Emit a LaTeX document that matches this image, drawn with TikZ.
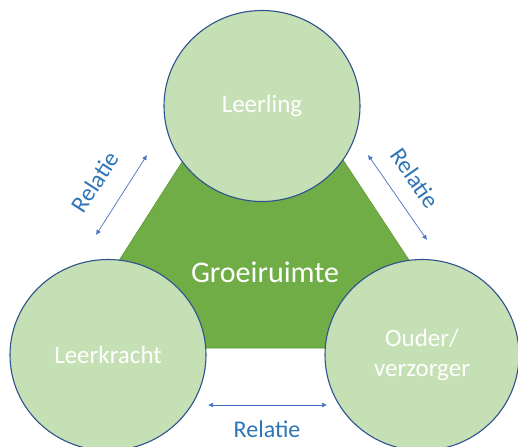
\documentclass[tikz,border=0pt]{standalone}
\usepackage{fontspec}
\setmainfont{Carlito}
\usepackage{tikz}
\usetikzlibrary{arrows.meta, shapes.geometric, positioning}
\definecolor{CircFill}{HTML}{C5E0B4}
\definecolor{CircLine}{HTML}{2F528F}
\definecolor{GrowFill}{HTML}{70AD47}
\definecolor{GrowLine}{HTML}{5E9A3A}
\definecolor{RelBlue}{HTML}{2E75B6}
\definecolor{ArrBlue}{HTML}{4472C4}

\begin{document}
\begin{tikzpicture}[x=1pt, y=-1pt,
	pers/.style={ellipse, draw=CircLine, line width=1.1pt, fill=CircFill, text=white, align=center,
		minimum width=196pt, minimum height=191pt, inner sep=0pt, font=\fontsize{25}{30}\selectfont},
	rel/.style={{Latex[length=5pt,width=5pt]}-{Latex[length=5pt,width=5pt]}, draw=ArrBlue, line width=0.7pt},
	rellbl/.style={text=RelBlue, inner sep=0pt, font=\fontsize{24}{28}\selectfont}]
	\useasboundingbox (0,0) rectangle (518,446);
	% growth area behind the circles
	\coordinate (top) at (262,37);
	\coordinate (bl) at (63,348);
	\coordinate (br) at (467,348);
	\fill[GrowFill, draw=GrowLine, line width=0.6pt] (top) -- (bl) -- (br) -- cycle;
	\node[pers] (ll) at (262,106) {Leerling};
	\node[pers] (lk) at (108,355) {Leerkracht};
	\node[pers, minimum width=194pt] (ov) at (422,355) {Ouder/\\verzorger};
	\node[text=white, inner sep=0pt, font=\fontsize{30}{36}\selectfont] (groei) at (265,272) {Groeiruimte};
	% relations
	\coordinate (la) at (96,235);
	\coordinate (lb) at (147,155);
	\coordinate (ra) at (368,155);
	\coordinate (rb) at (427,240);
	\coordinate (ba) at (208,405);
	\coordinate (bb) at (327,405);
	\draw[rel] (la) -- (lb);
	\draw[rel] (ra) -- (rb);
	\draw[rel] (ba) -- (bb);
	\node[rellbl, rotate=57] (rl) at (95,182) {Relatie};
	\node[rellbl, rotate=-55] (rr) at (415,178) {Relatie};
	\node[rellbl] (rbt) at (267,429) {Relatie};
\end{tikzpicture}
\end{document}
